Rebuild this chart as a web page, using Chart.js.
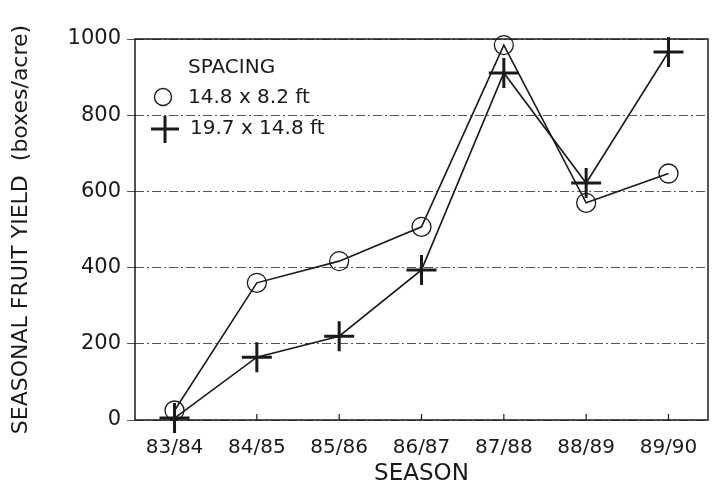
<!DOCTYPE html>
<html>
<head>
<meta charset="utf-8">
<script src="https://cdn.jsdelivr.net/npm/chart.js@4.4.1/dist/chart.umd.min.js"></script>
<style>
  html, body { margin: 0; padding: 0; background: #fff; }
  .wrap { width: 716px; height: 488px; }
</style>
</head>
<body>
<div class="wrap"><canvas class="chart" width="716" height="488"></canvas></div>
<script>
(function() {

    let seasons = ['83/84', '84/85', '85/86', '86/87', '87/88', '88/89', '89/90'];

    // 14.8 x 8.2 ft spacing (circles)
    let closeSpacing = [25, 360, 417, 507, 984, 570, 647];

    // 19.7 x 14.8 ft spacing (crosses)
    let wideSpacing = [5, 165, 220, 394, 911, 622, 966];

    let yTicks = [0, 200, 400, 600, 800, 1000];

    let font = 'DejaVu Sans';
    let ink = '#1a1a1a';

    let toPoints = values => values.map((v, i) => ({ x: i, y: v }));

    /**
     * Frame round the plot area plus inward ticks on the x axis
     */
    let framePlugin = {
        id: 'frame',
        beforeDatasetsDraw(chart) {
            let { ctx, chartArea: a, scales } = chart;
            ctx.save();
            ctx.strokeStyle = ink;
            ctx.lineWidth = 1.5;
            ctx.strokeRect(a.left, a.top, a.right - a.left, a.bottom - a.top);

            ctx.lineWidth = 1.2;
            scales.x.ticks.forEach(t => {
                let px = scales.x.getPixelForValue(t.value);
                ctx.beginPath();
                ctx.moveTo(px, a.bottom);
                ctx.lineTo(px, a.bottom - 6);
                ctx.stroke();
            });
            ctx.restore();
        }
    };

    /**
     * Legend drawn inside the plot area, top left
     */
    let legendPlugin = {
        id: 'insideLegend',
        afterDatasetsDraw(chart) {
            let { ctx, chartArea: a } = chart;
            let x0 = a.left;
            let y0 = a.top;
            ctx.save();
            ctx.fillStyle = ink;
            ctx.strokeStyle = ink;
            ctx.font = '20px "' + font + '"';
            ctx.textBaseline = 'middle';
            ctx.fillText('SPACING', x0 + 53, y0 + 29);
            ctx.fillText('14.8 x 8.2 ft', x0 + 53, y0 + 59);
            ctx.fillText('19.7 x 14.8 ft', x0 + 55, y0 + 90);

            ctx.lineWidth = 1.4;
            ctx.beginPath();
            ctx.arc(x0 + 28, y0 + 58, 8.5, 0, Math.PI * 2);
            ctx.stroke();

            ctx.lineWidth = 3;
            ctx.beginPath();
            ctx.moveTo(x0 + 16, y0 + 90);
            ctx.lineTo(x0 + 44, y0 + 90);
            ctx.moveTo(x0 + 30, y0 + 77);
            ctx.lineTo(x0 + 30, y0 + 104);
            ctx.stroke();
            ctx.restore();
        }
    };

    let plotChart = () => {
        let ctx = document.querySelector('.chart');

        new Chart(ctx, {
            type: 'line',
            data: {
                datasets: [
                    {
                        label: '14.8 x 8.2 ft',
                        data: toPoints(closeSpacing),
                        borderColor: ink,
                        borderWidth: 1.6,
                        pointStyle: 'circle',
                        pointRadius: 9.5,
                        pointBorderWidth: 1.3,
                        pointBorderColor: ink,
                        pointBackgroundColor: 'rgba(0,0,0,0)',
                        tension: 0,
                        clip: false
                    },
                    {
                        label: '19.7 x 14.8 ft',
                        data: toPoints(wideSpacing),
                        borderColor: ink,
                        borderWidth: 1.6,
                        pointStyle: 'cross',
                        pointRadius: 15,
                        pointBorderWidth: 3,
                        pointBorderColor: ink,
                        tension: 0,
                        clip: false
                    }
                ]
            },
            options: {
                responsive: false,
                animation: false,
                layout: {
                    autoPadding: false,
                    padding: { top: 39, right: 8, left: 0, bottom: 0 }
                },
                scales: {
                    x: {
                        type: 'linear',
                        min: -0.48,
                        max: 6.48,
                        afterFit: scale => {
                            scale.height = 68;
                            scale.paddingLeft = 0;
                            scale.paddingRight = 0;
                        },
                        grid: { display: false },
                        border: { display: false },
                        ticks: {
                            stepSize: 1,
                            includeBounds: false,
                            autoSkip: false,
                            maxRotation: 0,
                            padding: 8,
                            color: ink,
                            font: { family: font, size: 20 },
                            callback: value => seasons[value]
                        },
                        title: {
                            display: true,
                            text: 'SEASON',
                            color: ink,
                            font: { family: font, size: 23 },
                            padding: { top: 6, bottom: 0 }
                        }
                    },
                    y: {
                        min: 0,
                        max: 1000,
                        afterFit: scale => { scale.width = 135; },
                        afterBuildTicks: scale => {
                            scale.ticks = yTicks.map(v => ({ value: v }));
                        },
                        grid: {
                            color: '#555',
                            lineWidth: 1,
                            tickLength: 8,
                            drawTicks: true
                        },
                        border: { display: false, dash: [9, 3, 2, 3] },
                        ticks: {
                            padding: 6,
                            color: ink,
                            font: { family: font, size: 21 },
                            callback: value => String(value)
                        },
                        title: {
                            display: true,
                            text: 'SEASONAL FRUIT YIELD  (boxes/acre)',
                            color: ink,
                            font: { family: font, size: 22 },
                            padding: { top: 8, bottom: 0 }
                        }
                    }
                },
                plugins: {
                    legend: { display: false },
                    tooltip: { enabled: false }
                }
            },
            plugins: [framePlugin, legendPlugin]
        });
    };

    window.addEventListener('DOMContentLoaded', plotChart);

})()
</script>
</body>
</html>
